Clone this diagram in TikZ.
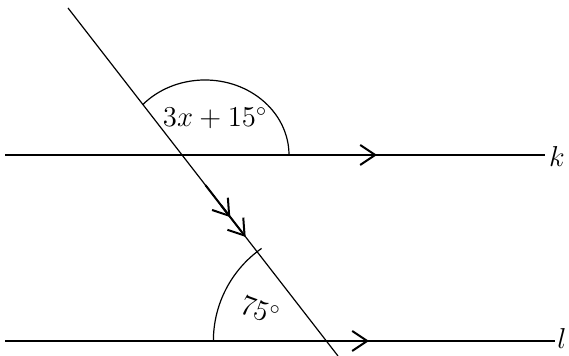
\documentclass[tikz,border=0pt]{standalone}
\usepackage{amsmath}
\usetikzlibrary{arrows.meta,calc}
\begin{document}
\begin{tikzpicture}[x=0.5pt,y=0.5pt,line width=0.6pt,font=\fontsize{14.5}{17}\selectfont,
  parr/.style={-{Straight Barb[length=7.5pt,width=10pt]},line width=1pt}]
\useasboundingbox (0,0) rectangle (569,356);
% parallel lines k and l
\coordinate (K1) at (5,201); \coordinate (K2) at (545,201);
\coordinate (L1) at (5,15); \coordinate (L2) at (555,15);
\draw (K1)--(K2); \node (k) at (557,199) {$k$};
\draw (L1)--(L2); \node (l) at (562,17) {$l$};
% transversal
\coordinate (T1) at (68,348); \coordinate (T2) at (338,0);
\draw (T1)--(T2);
\coordinate (Pk) at (intersection of T1--T2 and K1--K2);
\coordinate (Pl) at (intersection of T1--T2 and L1--L2);
% parallel marks
\coordinate (ka) at (343,201); \coordinate (kb) at (377,201);
\coordinate (la) at (335,15); \coordinate (lb) at (369,15);
\draw[parr] (ka)--(kb);
\draw[parr] (la)--(lb);
\foreach \a/\b in {0.509/0.601,0.566/0.658}{
  \coordinate (ta) at ($(T1)!\a!(T2)$); \coordinate (tb) at ($(T1)!\b!(T2)$);
  \draw[parr] (ta)--(tb);}
% angle arcs
\coordinate (Ek) at (205,201);
\draw ($(Ek)+(138:84 and 75)$) arc[start angle=138,end angle=0,x radius=84,y radius=75];
\draw ($(Pl)+(125:113)$) arc[start angle=125,end angle=180,radius=113];
\node (ang1) at (215,238) {$3x+15^\circ$};
\node[rotate=-20] (ang2) at (260,46) {$75^\circ$};
\end{tikzpicture}
\end{document}
